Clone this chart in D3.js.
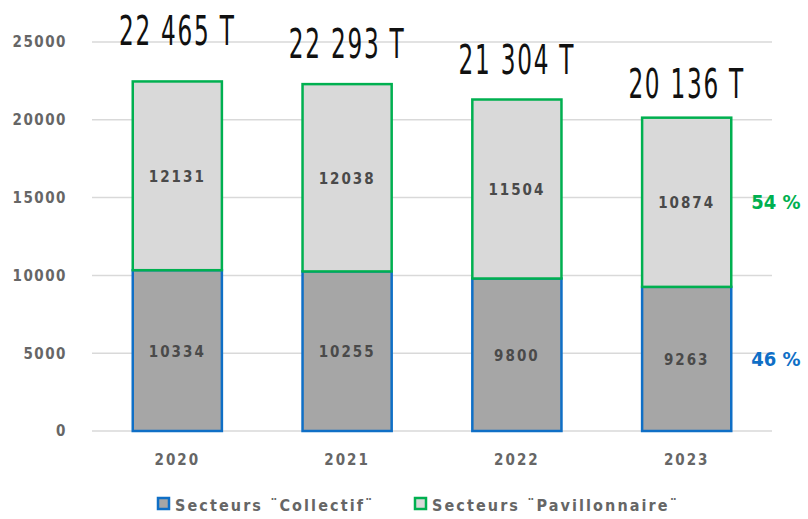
<!DOCTYPE html>
<html>
<head>
<meta charset="utf-8">
<script src="https://cdn.jsdelivr.net/npm/d3@7"></script>
<style>
  body { margin: 0; background: #fff; }
  text { font-family: "DejaVu Sans Condensed", "Liberation Sans Narrow", sans-serif; }
</style>
</head>
<body>
<svg id="chart" width="808" height="519"></svg>
<script>
// Data
var years = ["2020", "2021", "2022", "2023"];
var collectif = [10334, 10255, 9800, 9263];
var pavillonnaire = [12131, 12038, 11504, 10874];
var totalLabels = ["22 465 T", "22 293 T", "21 304 T", "20 136 T"];
var yTicks = [0, 5000, 10000, 15000, 20000, 25000];
var shareLabels = ["46 %", "54 %"];
var labelLift = [36, 26, 26, 20]; // handwritten totals don't sit at the same height

var svg = d3.select("#chart");
var margin = { top: 42, right: 36, bottom: 88, left: 92 },
    width = 808 - margin.left - margin.right,
    height = 519 - margin.top - margin.bottom;

var xScale = d3.scaleBand()
    .domain(years)
    .range([margin.left, margin.left + width])
    .paddingInner(0.475)
    .paddingOuter(0.24);

var yScale = d3.scaleLinear()
    .domain([0, 25000])
    .range([margin.top + height, margin.top]);

// Gridlines
svg.append("g")
    .selectAll("line")
    .data(yTicks)
    .join("line")
    .attr("x1", margin.left)
    .attr("x2", margin.left + width)
    .attr("y1", d => yScale(d))
    .attr("y2", d => yScale(d))
    .style("stroke", "#d9d9d9")
    .style("stroke-width", 1.5);

// Y axis labels
var yAxis = svg.append("g")
    .attr("transform", `translate(${margin.left - 22}, 0)`)
    .call(d3.axisLeft(yScale).tickValues(yTicks).tickSize(0).tickFormat(d3.format("d")));
yAxis.select(".domain").remove();
yAxis.selectAll("text")
    .style("font-family", "'DejaVu Sans Condensed', sans-serif")
    .style("font-size", "15px")
    .style("font-weight", "bold")
    .style("letter-spacing", "1.5px")
    .style("fill", "#666");

// X axis labels
var xAxis = svg.append("g")
    .attr("transform", `translate(0, ${margin.top + height + 20})`)
    .call(d3.axisBottom(xScale).tickSize(0));
xAxis.select(".domain").remove();
xAxis.selectAll("text")
    .style("font-family", "'DejaVu Sans Condensed', sans-serif")
    .style("font-size", "15px")
    .style("font-weight", "bold")
    .style("letter-spacing", "2px")
    .style("fill", "#666");

// Collectif bars (bottom)
svg.append("g")
    .selectAll("rect")
    .data(collectif)
    .join("rect")
    .attr("x", (d, i) => xScale(years[i]))
    .attr("y", d => yScale(d))
    .attr("width", xScale.bandwidth())
    .attr("height", d => yScale(0) - yScale(d))
    .style("fill", "#a6a6a6")
    .style("stroke", "#0f6fc6")
    .style("stroke-width", 2.5);

// Pavillonnaire bars (top)
svg.append("g")
    .selectAll("rect")
    .data(pavillonnaire)
    .join("rect")
    .attr("x", (d, i) => xScale(years[i]))
    .attr("y", (d, i) => yScale(collectif[i] + d))
    .attr("width", xScale.bandwidth())
    .attr("height", (d, i) => yScale(collectif[i]) - yScale(collectif[i] + d))
    .style("fill", "#d9d9d9")
    .style("stroke", "#00b050")
    .style("stroke-width", 2.5);

// Values inside the bars
function valueLabels(data, base) {
    svg.append("g")
        .selectAll("text")
        .data(data)
        .join("text")
        .attr("x", (d, i) => xScale(years[i]) + xScale.bandwidth() / 2)
        .attr("y", (d, i) => yScale(base[i] + d / 2) + 6)
        .attr("text-anchor", "middle")
        .style("font-size", "15px")
        .style("font-weight", "bold")
        .style("letter-spacing", "2px")
        .style("fill", "#4a4a4a")
        .text(d => d);
}
valueLabels(collectif, [0, 0, 0, 0]);
valueLabels(pavillonnaire, collectif);

// Handwritten-like totals above the bars
svg.append("g")
    .selectAll("text")
    .data(totalLabels)
    .join("text")
    .attr("transform", (d, i) => {
        var cx = xScale(years[i]) + xScale.bandwidth() / 2;
        var cy = yScale(collectif[i] + pavillonnaire[i]) - labelLift[i];
        return `translate(${cx}, ${cy}) scale(0.58, 1)`;
    })
    .attr("text-anchor", "middle")
    .style("font-family", "'DejaVu Sans', sans-serif")
    .style("font-size", "40px")
    .style("font-weight", "normal")
    .style("letter-spacing", "3px")
    .style("fill", "#111")
    .text(d => d);

// Share labels for the last year
var last = years.length - 1;
var shareX = xScale(years[last]) + xScale.bandwidth() + 20;
svg.append("text")
    .attr("x", shareX)
    .attr("y", yScale(collectif[last] / 2) + 7)
    .style("font-size", "20px")
    .style("font-weight", "bold")
    .style("fill", "#0f6fc6")
    .text(shareLabels[0]);
svg.append("text")
    .attr("x", shareX)
    .attr("y", yScale(collectif[last] + pavillonnaire[last] / 2) + 7)
    .style("font-size", "20px")
    .style("font-weight", "bold")
    .style("fill", "#00b050")
    .text(shareLabels[1]);

// Legend
var legendItems = [
    { name: "Secteurs ¨Collectif¨", fill: "#a6a6a6", stroke: "#0f6fc6", x: 158 },
    { name: "Secteurs ¨Pavillonnaire¨", fill: "#d9d9d9", stroke: "#00b050", x: 415 }
];
var legend = svg.append("g").attr("transform", "translate(0, 507)");
legendItems.forEach(function (item) {
    legend.append("rect")
        .attr("x", item.x)
        .attr("y", -9)
        .attr("width", 11)
        .attr("height", 11)
        .style("fill", item.fill)
        .style("stroke", item.stroke)
        .style("stroke-width", 2.5);
    legend.append("text")
        .attr("x", item.x + 17)
        .attr("y", 4)
        .style("font-size", "16px")
        .style("font-weight", "bold")
        .style("letter-spacing", "2.1px")
        .style("fill", "#666")
        .text(item.name);
});
</script>
</body>
</html>
